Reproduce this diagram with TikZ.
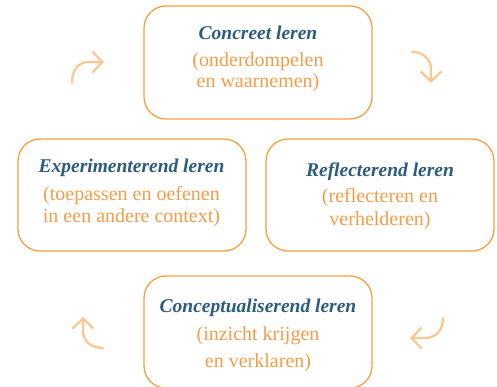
\documentclass[tikz,border=0pt]{standalone}
\usepackage{fontspec}
\setmainfont{Liberation Serif}
\usetikzlibrary{arrows.meta}
\definecolor{boxorange}{HTML}{F7A043}
\definecolor{titleblue}{HTML}{2B5C7E}
\definecolor{suborange}{HTML}{F59C48}
\definecolor{arrowpeach}{HTML}{FDC793}
\tikzset{
  stage/.style={draw=boxorange, line width=1.3pt, rounded corners=22pt, minimum width=228pt, inner sep=0pt},
  ttl/.style={anchor=base, text=titleblue, font=\fontsize{19.5}{21}\selectfont\bfseries\itshape, inner sep=0pt},
  sub/.style={anchor=base, text=suborange, font=\fontsize{20}{21}\selectfont, inner sep=0pt},
  cyc/.style={draw=arrowpeach, line width=2.3pt, line cap=round, -{Straight Barb[length=10pt, width=21pt, line width=2.3pt]}}
}
\begin{document}
\begin{tikzpicture}[x=1pt, y=-1pt]
\useasboundingbox (0,0) rectangle (497,387);
% boxes
\node[stage, minimum height=113pt] (top) at (258,62.5) {};
\node[stage, minimum height=112pt] (left) at (132,195) {};
\node[stage, minimum height=112pt] (right) at (380,195) {};
\node[stage, minimum height=112pt] (bottom) at (258,332) {};
% texts
\node[ttl] (t1) at (258,40) {Concreet leren};
\node[sub] (t1a) at (258,66.5) {(onderdompelen};
\node[sub] (t1b) at (258,88) {en waarnemen)};
\node[ttl] (t2) at (131.5,173) {Experimenterend leren};
\node[sub] (t2a) at (131.5,200.5) {(toepassen en oefenen};
\node[sub] (t2b) at (131.5,222.5) {in een andere context)};
\node[ttl] (t3) at (380,176.7) {Reflecterend leren};
\node[sub] (t3a) at (380,203) {(reflecteren en};
\node[sub] (t3b) at (380,225.5) {verhelderen)};
\node[ttl] (t4) at (258,312) {Conceptualiserend leren};
\node[sub] (t4a) at (258,340) {(inzicht krijgen};
\node[sub] (t4b) at (258,367) {en verklaren)};
% arrows
\coordinate (tls) at (72,83);  \coordinate (tle) at (104,62);
\coordinate (trs) at (412,52); \coordinate (tre) at (431,83);
\coordinate (brs) at (443,318); \coordinate (bre) at (410,338);
\coordinate (bls) at (103,348); \coordinate (ble) at (83,317);
\draw[cyc] (tls) .. controls (72,70) and (78,62) .. (89,62) -- (tle);
\draw[cyc] (trs) .. controls (423,52) and (431,59) .. (431,69) -- (tre);
\draw[cyc] (brs) .. controls (443,330) and (436,338) .. (425,338) -- (bre);
\draw[cyc] (bls) .. controls (91,348) and (83,341) .. (83,331) -- (ble);
\end{tikzpicture}
\end{document}
